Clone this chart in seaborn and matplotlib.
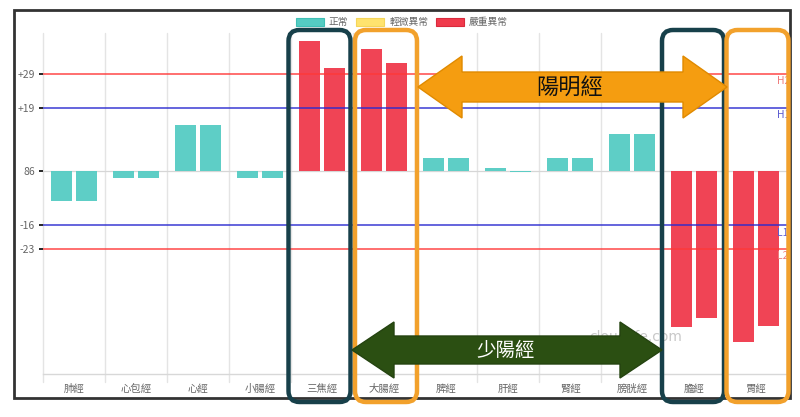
import numpy as np
import pandas as pd
import matplotlib
matplotlib.use("Agg")
import matplotlib.pyplot as plt
import matplotlib.transforms as mtransforms
from matplotlib.patches import FancyBboxPatch, Polygon, Patch, Rectangle
import seaborn as sns

# ---------------- data ----------------
meridians = ['肺經', '心包經', '心經', '小腸經', '三焦經', '大腸經',
             '脾經', '肝經', '腎經', '膀胱經', '膽經', '胃經']
left_vals = [-8.8, -2.0, 13.8, -2.0, 38.8, 36.4, 4.0, 1.0, 4.0, 11.2, -46.3, -50.7]
right_vals = [-8.8, -2.0, 13.8, -2.0, 30.8, 32.2, 4.0, -0.3, 4.0, 11.2, -43.6, -46.0]
left_status = ['正常', '正常', '正常', '正常', '嚴重異常', '嚴重異常',
               '正常', '正常', '正常', '正常', '嚴重異常', '嚴重異常']
right_status = ['正常', '正常', '正常', '正常', '嚴重異常', '嚴重異常',
                '正常', '正常', '正常', '正常', '嚴重異常', '嚴重異常']
legend_labels = ['正常', '輕微異常', '嚴重異常']
ytick_vals = [29, 19, 0, -16, -23]
ytick_labels = ['+29', '+19', '86', '-16', '-23']
ref_vals = [29, 19, -16, -23]
ref_names = ['H2', 'H1', 'L1', 'L2']
group_labels = ['陽明經', '少陽經']
watermark = 'cloudlife.com'

# ---------------- style ----------------
sns.set_theme(style='white')
plt.rcParams['font.family'] = ['Noto Sans CJK TC', 'DejaVu Sans']

status_colors = {'正常': '#55CCC3', '輕微異常': '#FFE36E', '嚴重異常': '#F03A4C'}
status_edges = {'正常': '#3FBFB5', '輕微異常': '#F5D55A', '嚴重異常': '#D92A3C'}
ref_colors = {'H2': '#FF3838', 'H1': '#2A2ACF', 'L1': '#2A2ACF', 'L2': '#FF3838'}
ref_text_colors = {'H2': '#EE7B7B', 'H1': '#5B5BD0', 'L1': '#5B5BD0', 'L2': '#EE7B7B'}

W, H = 800, 417
fig = plt.figure(figsize=(W / 100, H / 100), dpi=100)
fig.patch.set_facecolor('white')
ax = fig.add_axes([43 / W, (H - 374) / H, 744 / W, (374 - 33) / H])

df = pd.DataFrame({
    'meridian': meridians * 2,
    'side': ['左'] * len(meridians) + ['右'] * len(meridians),
    'value': left_vals + right_vals,
})
sns.barplot(data=df, x='meridian', y='value', hue='side', order=meridians,
            hue_order=['左', '右'], width=0.8, gap=0.14, legend=False, ax=ax,
            palette=['#55CCC3', '#55CCC3'], saturation=1, zorder=2)

for container, statuses in zip(ax.containers, [left_status, right_status]):
    for bar, s in zip(container, statuses):
        bar.set_facecolor(status_colors[s])
        bar.set_edgecolor('none')
        bar.set_alpha(0.95)

ax.set_xlim(-0.5, len(meridians) - 0.5)
ax.set_ylim(-60.3, 41.2)
ax.set_xlabel('')
ax.set_ylabel('')
for name, sp in ax.spines.items():
    sp.set_visible(False)
ax.spines['bottom'].set_visible(True)
ax.spines['bottom'].set_color('#d8d8d8')
ax.spines['bottom'].set_linewidth(1)

blend = mtransforms.blended_transform_factory(ax.transData, ax.transAxes)
for i in range(len(meridians) + 1):
    ax.plot([i - 0.5, i - 0.5], [-0.024, 1], transform=blend, color='#e4e4e4',
            lw=1, clip_on=False, zorder=0.5)

ax.axhline(0, color='#d6d6d6', lw=0.9, zorder=0.6)

ax.set_xticks(range(len(meridians)))
ax.set_xticklabels(meridians)
ax.tick_params(axis='x', length=0, pad=7, labelsize=7.5, labelcolor='#666666')

ax.set_yticks(ytick_vals)
ax.set_yticklabels(ytick_labels)
ax.tick_params(axis='y', length=3.2, width=1.4, pad=2.5, labelsize=7.5,
               labelcolor='#666666', left=True)
tick_cols = ['#FF3838', '#2A2ACF', '#cccccc', '#2A2ACF', '#FF3838']
for t, c in zip(ax.yaxis.get_major_ticks(), tick_cols):
    t.tick1line.set_color(c)

blend_ax_x = mtransforms.blended_transform_factory(ax.transAxes, ax.transData)
for v, n in zip(ref_vals, ref_names):
    ax.axhline(v, color=ref_colors[n], lw=1.2, alpha=0.85, zorder=3)
    tr = mtransforms.offset_copy(blend_ax_x, fig=fig, x=0, y=-2.5, units='dots')
    ax.text((777 - 43) / 744, v, n, transform=tr, ha='left', va='top',
            fontsize=7.5, color=ref_text_colors[n], zorder=3)

# ---------------- legend ----------------
handles = [Patch(facecolor=status_colors[k], edgecolor=status_edges[k], lw=0.8)
           for k in legend_labels]
leg = fig.legend(handles, legend_labels, loc='center',
                 bbox_to_anchor=(402 / W, 1 - 22 / H), ncol=3, frameon=False,
                 fontsize=7, handlelength=2.9, handleheight=0.9,
                 columnspacing=0.8, handletextpad=0.5, labelcolor='#666666')

# ---------------- overlays (display pixels) ----------------
ident = mtransforms.IdentityTransform()


def dx(xdata):
    return ax.transData.transform((xdata, 0))[0]


def dy(yimg):
    return H - yimg


# watermark
fig.text(682 / W, 1 - 337 / H, watermark, ha='right', va='center',
         fontsize=10, color='#c8c8c8', family='DejaVu Sans', zorder=1.5)

# rounded boxes
box_specs = [(4, '#17404A', -2.5), (5, '#F2A12C', 2.0),
             (10, '#17404A', -1.0), (11, '#F2A12C', 1.5)]
for idx, col, shift in box_specs:
    x0 = dx(idx - 0.5) + shift
    x1 = dx(idx + 0.5) + shift
    y_top, y_bot = dy(30), dy(402)
    p = FancyBboxPatch((x0, y_bot), x1 - x0, y_top - y_bot,
                       boxstyle='round,pad=0,rounding_size=11',
                       lw=3.2, edgecolor=col, facecolor='none',
                       transform=ident, zorder=4)
    fig.add_artist(p)


def double_arrow(xl, xr, yc, sh, hh, hl):
    return [(xl, yc), (xl + hl, yc + hh), (xl + hl, yc + sh), (xr - hl, yc + sh),
            (xr - hl, yc + hh), (xr, yc), (xr - hl, yc - hh), (xr - hl, yc - sh),
            (xl + hl, yc - sh), (xl + hl, yc - hh)]


# 陽明經 arrow (orange)
pts = double_arrow(dx(5.5) + 3, dx(10.5) + 2, dy(87), 15, 31, 44)
fig.add_artist(Polygon(pts, closed=True, facecolor='#F59D10', edgecolor='#E08A00',
                       lw=1, transform=ident, zorder=5))
fig.text(570 / W, 1 - 87 / H, group_labels[0], ha='center', va='center',
         fontsize=16, color='#111111', zorder=6)

# 少陽經 arrow (dark green)
pts = double_arrow(dx(4.5) - 1, dx(9.5) - 1, dy(350), 14, 28, 42)
fig.add_artist(Polygon(pts, closed=True, facecolor='#2B4F12', edgecolor='#244310',
                       lw=1, transform=ident, zorder=5))
fig.text(506 / W, 1 - 350 / H, group_labels[1], ha='center', va='center',
         fontsize=14, color='white', zorder=6)

# outer frame
fig.add_artist(Rectangle((14, dy(398)), 776, 388, lw=2, edgecolor='#333333',
                         facecolor='none', transform=ident, zorder=3.5))

fig.savefig('out.png', dpi=100)
